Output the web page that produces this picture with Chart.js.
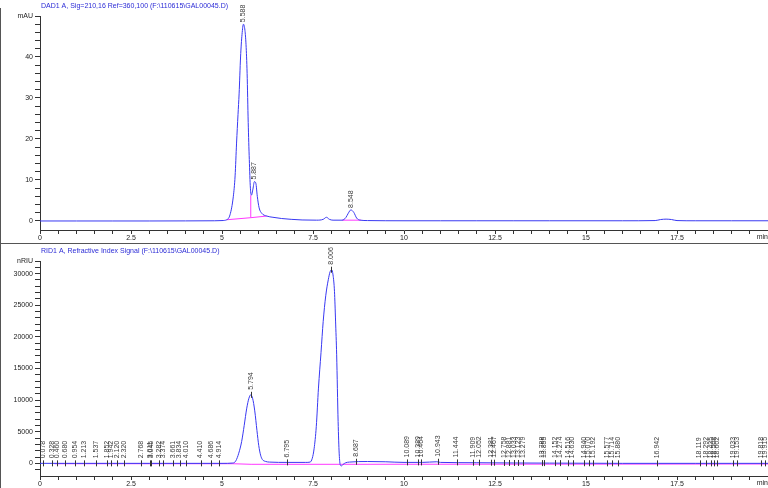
<!DOCTYPE html>
<html><head><meta charset="utf-8">
<script src="https://cdn.jsdelivr.net/npm/chart.js@4.4.1/dist/chart.umd.min.js"></script>
<style>
html,body{margin:0;padding:0;background:#fff;}
#wrap{position:relative;width:768px;height:488px;overflow:hidden;background:#fff;}
.pane{position:absolute;left:0;width:768px;}
#p1{top:0;height:243px;}
#p2{top:243px;height:245px;}
#frameL{position:absolute;left:0;top:8px;width:1px;height:480px;background:#555;}
#sep{position:absolute;left:0;top:243px;width:768px;height:1px;background:#555;}
</style></head><body>
<div id="wrap">
<div class="pane" id="p1"><canvas id="c1" width="768" height="243"></canvas></div>
<div class="pane" id="p2"><canvas id="c2" width="768" height="245"></canvas></div>
<div id="frameL"></div><div id="sep"></div>
</div>
<script>
// ---------- DATA ----------
const dadTitle = 'DAD1 A, Sig=210,16 Ref=360,100 (F:\\110615\\GAL00045.D)';
const ridTitle = 'RID1 A, Refractive Index Signal (F:\\110615\\GAL00045.D)';

const xTickValues = [0,2.5,5,7.5,10,12.5,15,17.5];
const xTickLabels = ['0','2.5','5','7.5','10','12.5','15','17.5'];
const xUnit = 'min';

const dadYTickValues = [0,10,20,30,40];
const dadYTickLabels = ['0','10','20','30','40'];
const dadUnit = 'mAU';
const ridYTickValues = [0,5000,10000,15000,20000,25000,30000];
const ridYTickLabels = ['0','5000','10000','15000','20000','25000','30000'];
const ridUnit = 'nRIU';

const dadTime = [0,1,2,3,4,4.8,5.0,5.13,5.22,5.31,5.36,5.40,5.44,5.47,5.51,5.55,5.59,5.63,5.66,5.69,5.72,5.75,5.78,5.81,5.85,5.89,5.93,5.97,6.02,6.09,6.23,6.4,6.64,6.9,7.2,7.6,7.78,7.87,7.95,8.05,8.3,8.40,8.47,8.54,8.62,8.70,8.80,9.0,10,11,12,13,14,15,16,16.9,17.05,17.2,17.35,17.5,18,19,20];
const dadSignal = [0,0,0,0,0.02,0.05,0.1,0.3,1.5,5.9,11,19,26,31,40,45.5,48,46.5,43,36,24,15,8,6.3,7.8,9.6,9.2,6,3.2,1.9,1.2,0.9,0.6,0.4,0.25,0.2,0.4,0.9,0.4,0.2,0.2,0.8,1.9,2.7,2.1,0.7,0.2,0.1,0.05,0.05,0.05,0.05,0.05,0.05,0.05,0.1,0.35,0.45,0.35,0.1,0.05,0.05,0.05];

// integration baselines (null = break)
const dadBaseTime  = [5.13, 5.79, 6.23, null, 5.79, 5.79, null, 8.30, 8.82];
const dadBaseValue = [0.3,  0.8,  1.2,  null, 0.8,  6.3,  null, 0.2,  0.2];

const dadPeakLabels  = ['5.588','5.887','8.548'];
const dadPeakHeights = [48, 9.6, 2.7];

const ridTime = [0,1,2,3,4,5,5.3,5.38,5.46,5.54,5.61,5.68,5.74,5.79,5.84,5.90,5.96,6.01,6.06,6.11,6.2,6.3,6.8,7.3,7.42,7.48,7.53,7.59,7.65,7.72,7.78,7.85,7.92,7.97,8.01,8.05,8.09,8.12,8.15,8.19,8.22,8.25,8.28,8.33,8.4,8.5,9.0,9.5,10,10.5,10.9,11,12,13,14,15,16,17,18,19,20];
const ridSignal = [0,0,0,0,0,0,50,400,1600,3450,6000,8730,10300,10840,10300,8300,5200,2800,1300,600,300,200,150,150,200,800,2300,5800,11900,17500,22440,26500,29040,30300,30620,29800,27190,22500,17170,6610,1500,-250,-400,-150,100,200,290,250,150,150,250,150,100,60,40,20,0,0,0,0,0];

const ridBaseTime  = [0.4, 5.3, 5.8, 8.25, 20];
const ridBaseValue = [-60, -60, -150, -150, -100];

const ridPeakLabels = ['0.078','0.328','0.460','0.680','0.954','1.213','1.537','1.852','1.942','2.120','2.320','2.768','3.011','3.045','3.282','3.374','3.661','3.834','4.010','4.410','4.686','4.914','5.794','6.795','8.006','8.687','10.089','10.389','10.464','10.943','11.444','11.909','12.052','12.381','12.467','12.758','12.881','13.033','13.123','13.279','13.788','13.855','14.152','14.274','14.516','14.630','14.940','15.070','15.192','15.577','15.714','15.880','16.942','18.119','18.292','18.435','18.508','18.602','19.033','19.153','19.818','19.915'];
const ridPeakHeights = [0,0,0,0,0,0,0,0,0,0,0,0,0,0,0,0,0,0,0,0,0,0,10840,150,30620,250,150,150,150,250,150,100,100,100,100,60,60,60,60,60,40,40,40,40,20,20,20,20,20,0,0,0,0,0,0,0,0,0,0,0,0,0];

// ---------- STYLE ----------
const FONT = '"Liberation Sans", Arial, Helvetica, sans-serif';
const TEXT = '#222';
const LABEL = '#3a3a3a';
const AXIS = '#333';
const BLUE = '#3838f2';
const MAGENTA = '#ff38ff';
const TITLE_BLUE = '#2b2bd6';

Chart.defaults.font.family = FONT;
Chart.defaults.font.size = 7;
Chart.defaults.color = TEXT;

function pts(t, v) {
  const out = [];
  let last = 0;
  for (let i = 0; i < t.length; i++) {
    if (t[i] === null || v[i] === null) out.push({x: last, y: null});
    else { out.push({x: t[i], y: v[i]}); last = t[i]; }
  }
  return out;
}

function labelPlugin(title, labels, heights, marks, gap) {
  return {
    id: 'peakLabels',
    afterDatasetsDraw(chart) {
      const {ctx, scales: {x, y}} = chart;
      ctx.save();
      ctx.font = '7px ' + FONT;
      ctx.fillStyle = LABEL;
      ctx.strokeStyle = '#333';
      ctx.lineWidth = 1;
      labels.forEach((txt, i) => {
        const px = x.getPixelForValue(parseFloat(txt));
        const py = y.getPixelForValue(heights[i]);
        if (marks) {
          ctx.beginPath();
          ctx.moveTo(Math.round(px) + 0.5, py - 3);
          ctx.lineTo(Math.round(px) + 0.5, py + 3);
          ctx.stroke();
        }
        ctx.save();
        ctx.translate(px, py - gap);
        ctx.rotate(-Math.PI / 2);
        ctx.textAlign = 'left';
        ctx.textBaseline = 'middle';
        ctx.fillText(txt, 0, 0);
        ctx.restore();
      });
      ctx.restore();
    },
    afterDraw(chart) {
      const {ctx, chartArea} = chart;
      ctx.save();
      ctx.font = '7px ' + FONT;
      ctx.fillStyle = TITLE_BLUE;
      ctx.textAlign = 'left';
      ctx.textBaseline = 'middle';
      ctx.fillText(title, 41, chartArea.top - 10);
      ctx.fillStyle = TEXT;
      ctx.textAlign = 'right';
      ctx.textBaseline = 'top';
      ctx.fillText(xUnit, 768, chartArea.bottom + 4);
      ctx.restore();
    }
  };
}

function makeChart(id, cfg) {
  const xTicks = [];
  for (let v = 0; v <= 20.001; v += 0.5) xTicks.push(Math.round(v * 10) / 10);
  const yTicks = [];
  for (let v = cfg.yMinorStart; v <= cfg.yMax + 1e-6; v += cfg.yMinor) yTicks.push(v);
  return new Chart(document.getElementById(id), {
    type: 'line',
    data: {
      datasets: [
        { data: pts(cfg.time, cfg.signal), borderColor: BLUE, borderWidth: 1, pointRadius: 0,
          cubicInterpolationMode: 'monotone', fill: false },
        { data: pts(cfg.baseT, cfg.baseV), borderColor: MAGENTA, borderWidth: 1, pointRadius: 0,
          tension: 0, spanGaps: false, fill: false }
      ]
    },
    options: {
      responsive: false,
      animation: false,
      events: [],
      layout: { padding: { top: cfg.padTop, left: 0, right: 0, bottom: 0 } },
      plugins: { legend: { display: false }, tooltip: { enabled: false } },
      scales: {
        x: {
          type: 'linear', min: 0, max: 20,
          afterBuildTicks: s => { s.ticks = xTicks.map(v => ({ value: v })); },
          afterFit: s => { s.height = cfg.xH; s.paddingLeft = 0; s.paddingRight = 0; },
          ticks: {
            autoSkip: false, maxRotation: 0, padding: 0, color: TEXT,
            font: { size: 7, family: FONT },
            callback: v => { const i = xTickValues.indexOf(v); return i >= 0 ? xTickLabels[i] : ''; }
          },
          grid: { drawOnChartArea: false, drawTicks: true, tickLength: 4, color: AXIS },
          border: { display: true, color: AXIS, width: 1 }
        },
        y: {
          type: 'linear', min: cfg.yMin, max: cfg.yMax,
          afterBuildTicks: s => { s.ticks = yTicks.map(v => ({ value: v })); },
          afterFit: s => { s.width = 40; },
          ticks: {
            autoSkip: false, padding: 2, color: TEXT, font: { size: 7, family: FONT },
            callback: v => {
              if (Math.abs(v - cfg.yMax) < 1e-6) return cfg.unit;
              const i = cfg.yTickValues.indexOf(v); return i >= 0 ? cfg.yTickLabels[i] : '';
            }
          },
          grid: { drawOnChartArea: false, drawTicks: true, tickLength: 5, color: AXIS },
          border: { display: true, color: AXIS, width: 1 }
        }
      }
    },
    plugins: [labelPlugin(cfg.title, cfg.labels, cfg.heights, cfg.marks, cfg.gap)]
  });
}

makeChart('c1', {
  time: dadTime, signal: dadSignal, baseT: dadBaseTime, baseV: dadBaseValue,
  yMin: -2.2, yMax: 50, yMinor: 2, yMinorStart: 0,
  yTickValues: dadYTickValues, yTickLabels: dadYTickLabels, unit: dadUnit,
  padTop: 16, xH: 13, title: dadTitle, labels: dadPeakLabels, heights: dadPeakHeights,
  marks: false, gap: 2
});
makeChart('c2', {
  time: ridTime, signal: ridSignal, baseT: ridBaseTime, baseV: ridBaseValue,
  yMin: -2000, yMax: 32000, yMinor: 1000, yMinorStart: -1000,
  yTickValues: ridYTickValues, yTickLabels: ridYTickLabels, unit: ridUnit,
  padTop: 18, xH: 12, title: ridTitle, labels: ridPeakLabels, heights: ridPeakHeights,
  marks: true, gap: 5
});
</script>
</body></html>
